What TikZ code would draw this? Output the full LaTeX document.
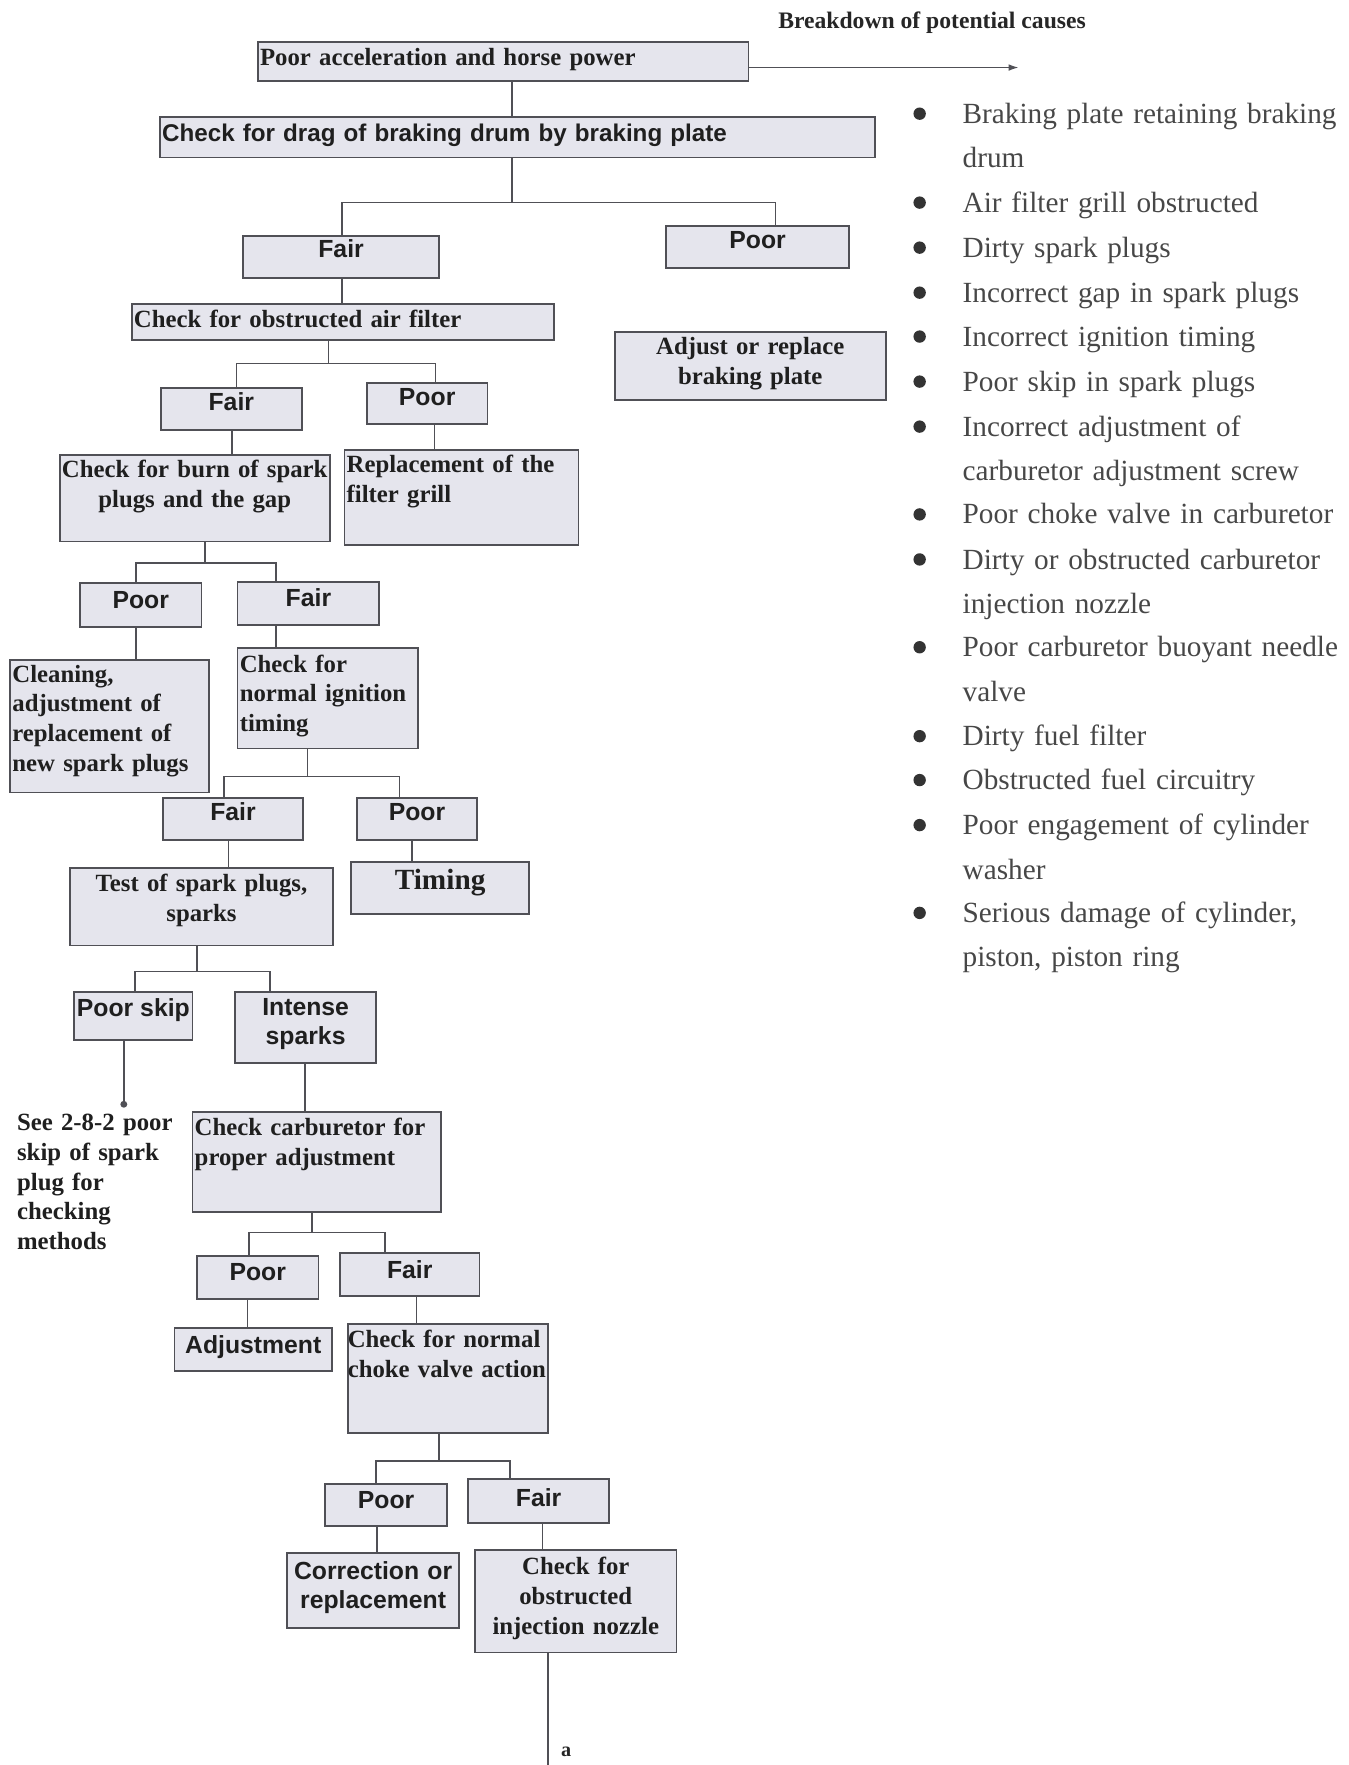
\documentclass[tikz,border=0pt]{standalone}
\usepackage{fontspec}
\setmainfont{Liberation Serif}
\setsansfont{Liberation Sans}
\usetikzlibrary{arrows.meta}
\definecolor{boxfill}{RGB}{229,229,237}
\definecolor{edge}{RGB}{80,80,86}

\begin{document}
\begin{tikzpicture}[x=1pt,y=-1pt,
  box/.style={draw=edge, fill=boxfill, line width=1.6pt, inner xsep=2pt, inner ysep=0pt, text=black!88},
  rm/.style={font=\fontsize{22}{26.5}\selectfont\bfseries},
  ss/.style={font=\fontsize{22}{26}\selectfont\sffamily\bfseries},
  link/.style={draw=edge, line width=1.4pt},
  cause/.style={anchor=base west, inner sep=0pt, text width=335, align=left, text=black!72, font=\fontsize{26}{39.5}\selectfont},
  dot/.style={circle, fill=black!80, inner sep=0pt, minimum size=11pt}]
\useasboundingbox (0,0) rectangle (1198,1568);

\node[font=\fontsize{21}{25}\selectfont\bfseries, text=black!85] (30) at (828,20) {Breakdown of potential causes};

% boxes of the tree
\node[box, rm, text width=432, align=left, text height=21, text depth=14] (0) at (447,54.5) {Poor acceleration and horse power};
\node[box, ss, font=\fontsize{21.5}{26}\selectfont\sffamily\bfseries, text width=631, align=left, text height=22, text depth=14] (1) at (459.5,122) {Check for drag of braking drum by braking plate};
\node[box, ss, minimum width=174, text height=19, text depth=18] (2) at (303,228.5) {Fair};
\node[box, ss, minimum width=162, text height=20, text depth=17] (3) at (673,219.5) {Poor};
\node[box, rm, text width=371, align=left, text height=21, text depth=11] (4) at (304.5,286) {Check for obstructed air filter};
\node[box, rm, text width=237, align=center, text height=20, text depth=40] (5) at (666.5,325) {Adjust or replace\\braking plate};
\node[box, ss, minimum width=125, text height=20, text depth=17] (6) at (205.5,363.5) {Fair};
\node[box, ss, minimum width=107, text height=20, text depth=17] (7) at (379.5,358.5) {Poor};
\node[box, rm, text width=236, align=center, text height=20, text depth=57] (8) at (173,442.5) {Check for burn of spark\\plugs and the gap};
\node[box, rm, text width=204, align=left, text height=20, text depth=64] (9) at (410,442) {Replacement of the\\filter grill};
\node[box, ss, minimum width=108, text height=23, text depth=16] (10) at (125,537.5) {Poor};
\node[box, ss, minimum width=126, text height=22, text depth=16] (11) at (274,536) {Fair};
\node[box, rm, text width=173, align=left, text height=20, text depth=98] (12) at (97.5,645) {Cleaning,\\adjustment of\\replacement of\\new spark plugs};
\node[box, rm, text width=156, align=left, text height=21, text depth=68] (13) at (291,620.5) {Check for\\normal ignition\\timing};
\node[box, ss, minimum width=124, text height=20, text depth=17] (14) at (207,727.5) {Fair};
\node[box, ss, minimum width=107, text height=20, text depth=17] (15) at (370.5,727.5) {Poor};
\node[box, rm, text width=230, align=center, text height=21, text depth=48] (16) at (179,805.5) {Test of spark plugs,\\sparks};
\node[box, font=\fontsize{26}{30}\selectfont\bfseries, minimum width=158, text height=24.5, text depth=21.5] (17) at (391,789) {Timing};
\node[box, ss, minimum width=105, text height=22, text depth=21] (18) at (118.5,902.5) {Poor skip};
\node[box, ss, text width=121, align=center, text height=21, text depth=42] (19) at (271.5,912.5) {Intense\\sparks};
\node[rm, anchor=north west, inner sep=0pt, text width=150, align=left, text height=20, text=black!88] (20) at (15,984) {See 2-8-2 poor\\skip of spark\\plug for\\checking\\methods};
\node[box, rm, text width=217, align=left, text height=21, text depth=68] (21) at (281.5,1032.5) {Check carburetor for\\proper adjustment};
\node[box, ss, minimum width=108, text height=22, text depth=16] (22) at (229,1135) {Poor};
\node[box, ss, minimum width=124, text height=23, text depth=15] (23) at (364,1132) {Fair};
\node[box, ss, minimum width=140, text height=22, text depth=16] (24) at (225,1199) {Adjustment};
\node[box, rm, inner xsep=0pt, text width=178, align=left, text height=21, text depth=76] (25) at (398,1224.5) {Check for normal\\\mbox{choke valve action}};
\node[box, ss, minimum width=108, text height=22, text depth=16] (26) at (343,1337) {Poor};
\node[box, ss, minimum width=125, text height=24, text depth=15] (27) at (478.5,1333.5) {Fair};
\node[box, ss, text width=149, align=center, text height=23, text depth=43] (28) at (331.5,1413) {Correction or\\replacement};
\node[box, rm, text width=175, align=center, text height=22, text depth=69] (29) at (511.5,1422.5) {Check for\\obstructed\\injection nozzle};

% junctions of the forks
\coordinate (j1) at (455,180);
\coordinate (j2) at (292,323);
\coordinate (j3) at (182,500);
\coordinate (j4) at (273,690);
\coordinate (j5) at (175,863);
\coordinate (j6) at (277,1095);
\coordinate (j7) at (390,1298);
\coordinate (tip) at (905,60);
\coordinate (end) at (487,1568);

% connectors
\draw[link, -{Latex[length=9pt,width=6pt]}] (0.east |- tip) -- (tip);
\draw[link] (0.south -| j1) -- (1.north -| j1);
\draw[link] (1.south -| j1) -- (j1);
\draw[link] (2.north -| 304,0) |- (j1) -| (3.north -| 689,0);
\draw[link] (2.south -| 304,0) -- (4.north -| 304,0);
\draw[link] (4.south -| j2) -- (j2);
\draw[link] (6.north -| 210,0) |- (j2) -| (7.north -| 387,0);
\draw[link] (6.south -| 206,0) -- (8.north -| 206,0);
\draw[link] (7.south -| 386,0) -- (9.north -| 386,0);
\draw[link] (8.south -| j3) -- (j3);
\draw[link] (10.north -| 121,0) |- (j3) -| (11.north -| 245,0);
\draw[link] (10.south -| 121,0) -- (12.north -| 121,0);
\draw[link] (11.south -| 245,0) -- (13.north -| 245,0);
\draw[link] (13.south -| j4) -- (j4);
\draw[link] (14.north -| 199,0) |- (j4) -| (15.north -| 355,0);
\draw[link] (14.south -| 203,0) -- (16.north -| 203,0);
\draw[link] (15.south -| 366,0) -- (17.north -| 366,0);
\draw[link] (16.south -| j5) -- (j5);
\draw[link] (18.north -| 120,0) |- (j5) -| (19.north -| 240,0);
\draw[link, -{Circle[length=6pt]}] (18.south -| 110,0) -- (20.north -| 110,0);
\draw[link] (19.south -| 271,0) -- (21.north -| 271,0);
\draw[link] (21.south -| j6) -- (j6);
\draw[link] (22.north -| 221,0) |- (j6) -| (23.north -| 342,0);
\draw[link] (22.south -| 220,0) -- (24.north -| 220,0);
\draw[link] (23.south -| 370,0) -- (25.north -| 370,0);
\draw[link] (25.south -| j7) -- (j7);
\draw[link] (26.north -| 334,0) |- (j7) -| (27.north -| 453,0);
\draw[link] (26.south -| 335,0) -- (28.north -| 335,0);
\draw[link] (27.south -| 482,0) -- (29.north -| 482,0);
\draw[link] (29.south -| end) -- (end);
\node[font=\fontsize{18}{20}\selectfont\bfseries, text=black!85] (31) at (503,1556) {a};

% list of causes
\foreach \y/\txt [count=\i] in {101/{Braking plate retaining braking\\drum}, 180/{Air filter grill obstructed},
  220/{Dirty spark plugs}, 260/{Incorrect gap in spark plugs}, 299/{Incorrect ignition timing},
  339/{Poor skip in spark plugs}, 379/{Incorrect adjustment of\\carburetor adjustment screw},
  457/{Poor choke valve in carburetor}, 497/{Dirty or obstructed carburetor\\injection nozzle},
  575/{Poor carburetor buoyant needle\\valve}, 654/{Dirty fuel filter}, 693/{Obstructed fuel circuitry},
  733/{Poor engagement of cylinder\\washer}, 811/{Serious damage of cylinder,\\piston, piston ring}}
{
  \node[dot] (b\i) at (817,\y) {};
  \node[cause] (c\i) at (855,\y+8.5) {\txt};
}
\end{tikzpicture}
\end{document}
